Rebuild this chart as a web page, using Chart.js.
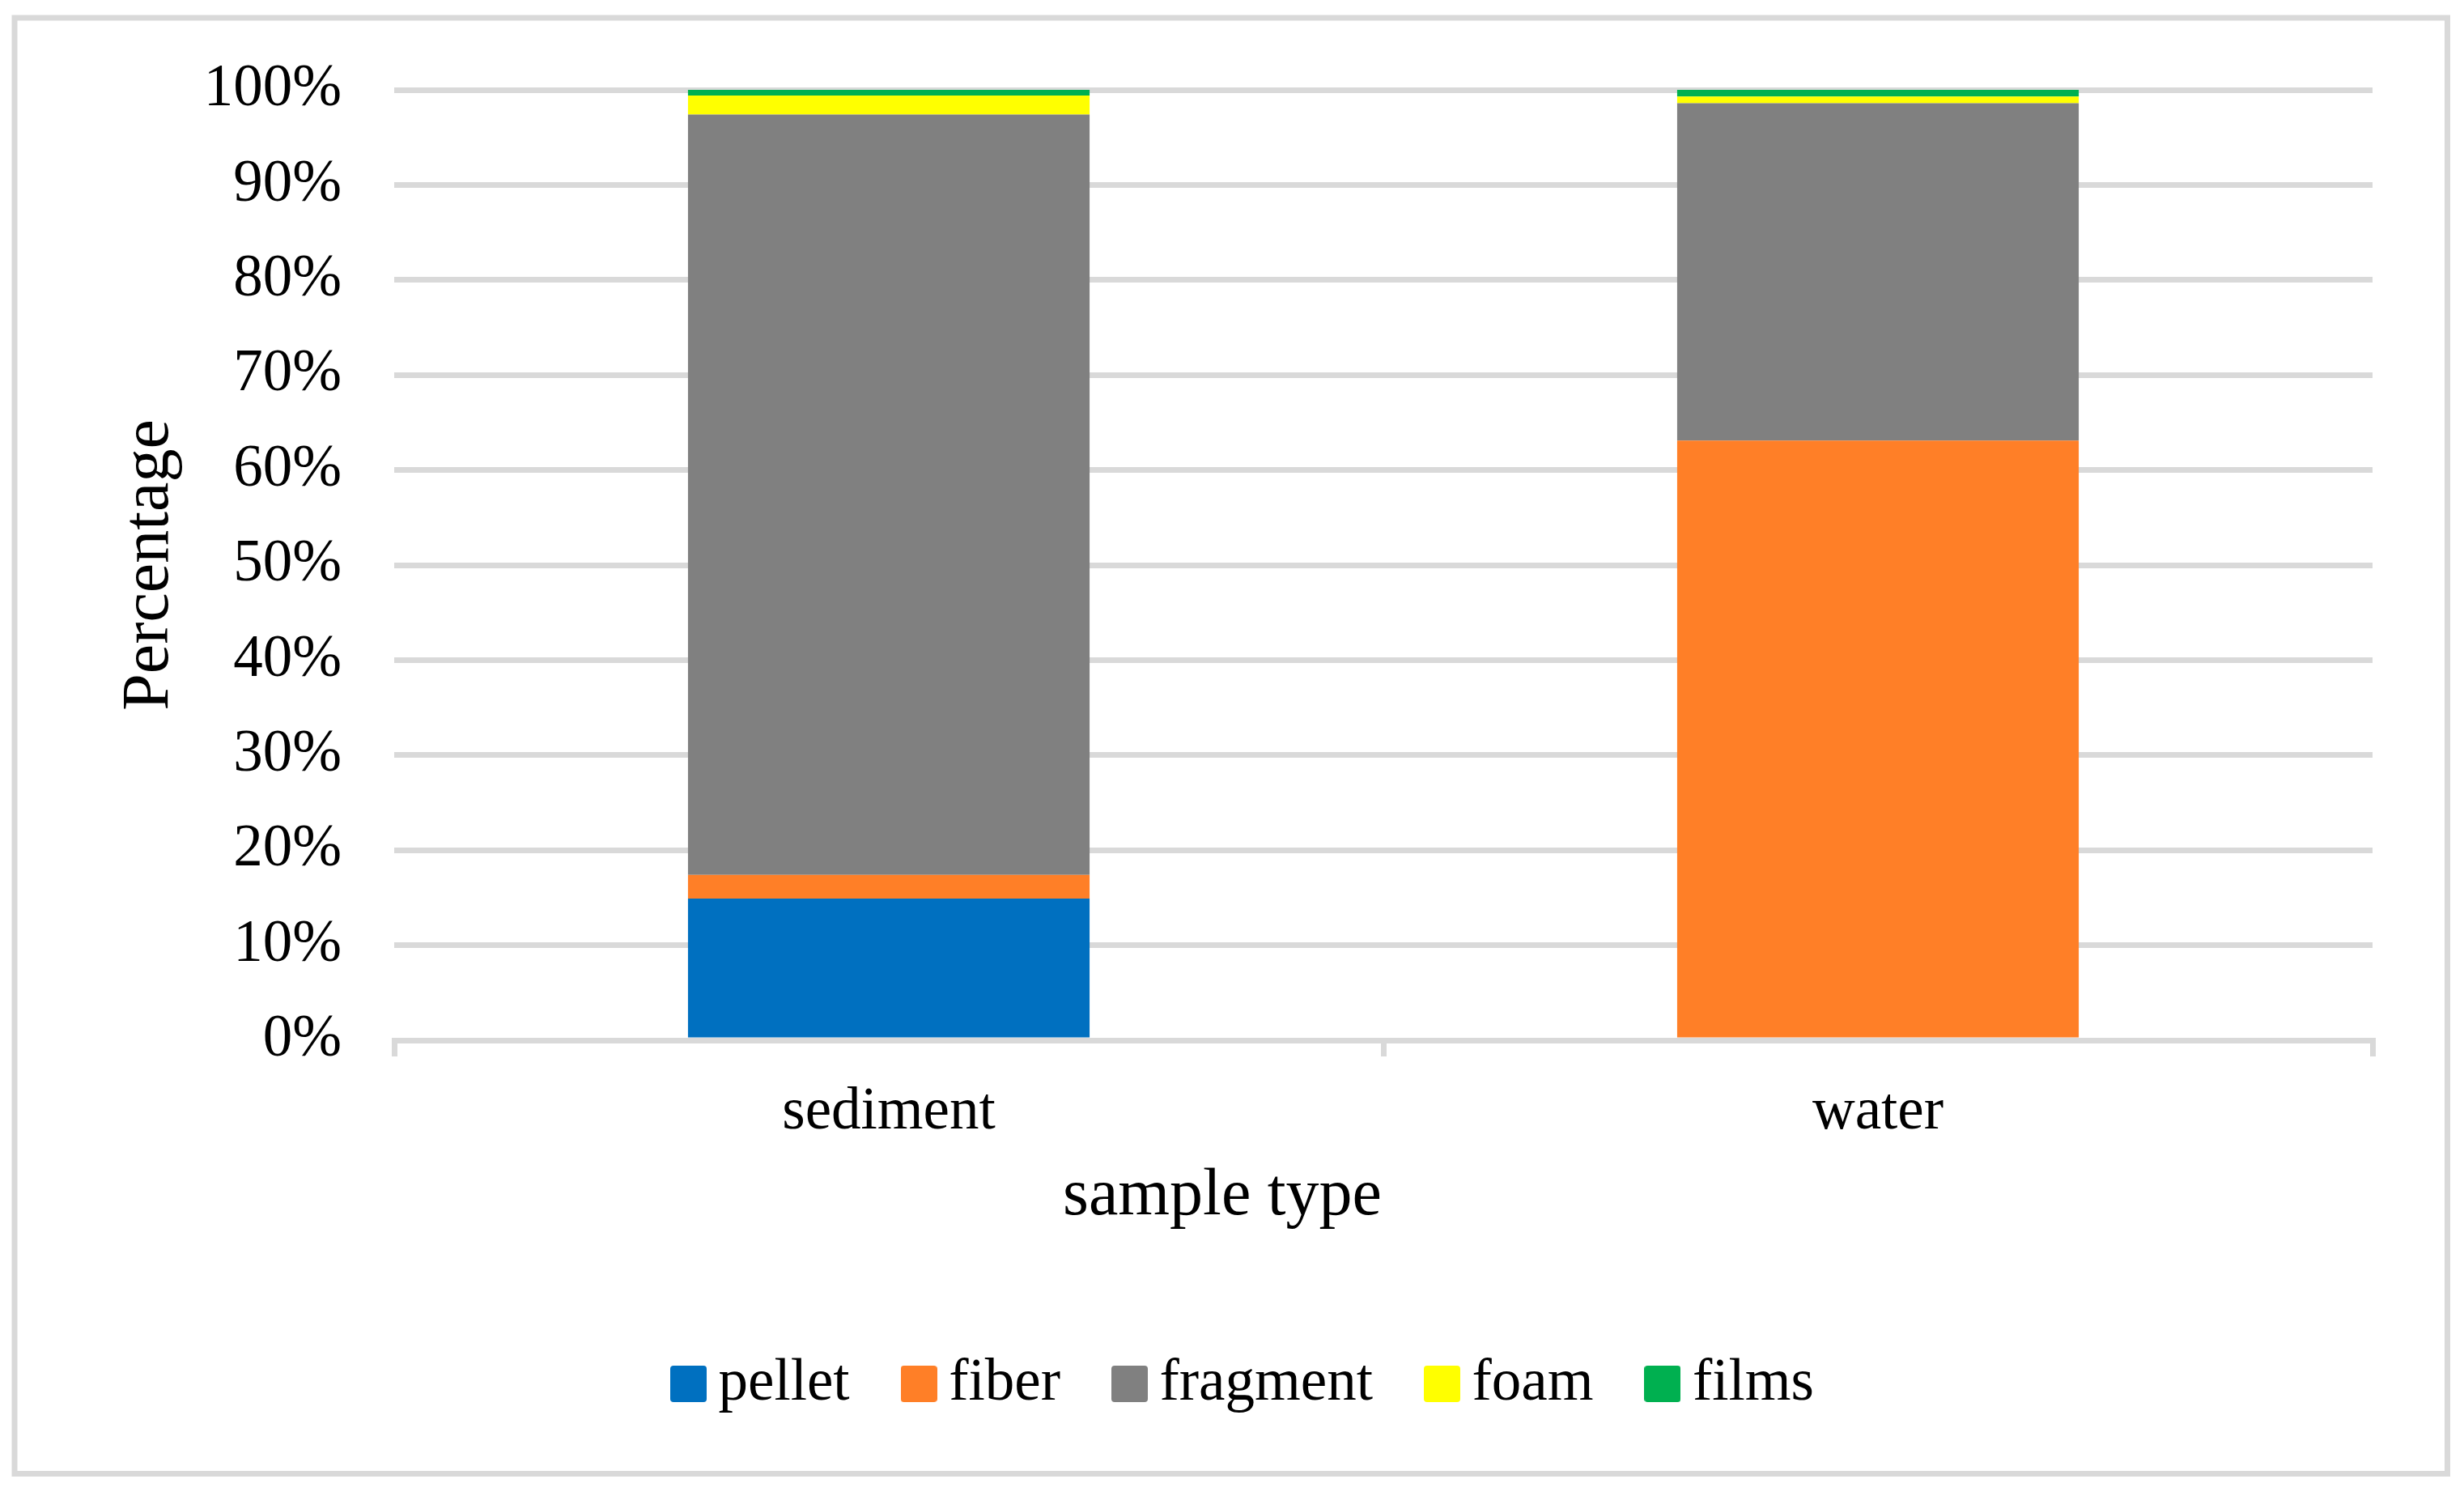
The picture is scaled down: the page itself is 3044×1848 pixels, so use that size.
<!DOCTYPE html>
<html>
<head>
<meta charset="utf-8">
<style>
  html, body { margin: 0; padding: 0; background: #ffffff; }
  #c { display: block; }
</style>
<script src="https://cdn.jsdelivr.net/npm/chart.js@4/dist/chart.umd.min.js"></script>
</head>
<body>
<canvas id="c" width="3044" height="1848" style="width:3044px;height:1848px"></canvas>
<script>
// ---- data ----
const categories = ['sediment', 'water'];
const pellet   = [14.9, 0];
const fiber    = [2.5, 63.1];
const fragment = [80.0, 35.5];
const foam     = [2.0, 0.7];
const films    = [0.6, 0.7];
const yTickSuffix = '%';
const xTitle = 'sample type';
const yTitle = 'Percentage';

const FONT = '"Liberation Serif", "Times New Roman", serif';

function makeSwatch(color) {
  const c = document.createElement('canvas');
  c.width = 45; c.height = 45;
  const g = c.getContext('2d');
  g.fillStyle = color;
  if (g.roundRect) { g.beginPath(); g.roundRect(0, 0, 45, 45, 4); g.fill(); }
  else { g.fillRect(0, 0, 45, 45); }
  return c;
}

const frame = {
  id: 'frame',
  beforeDraw(chart) {
    const ctx = chart.ctx;
    ctx.save();
    ctx.fillStyle = '#ffffff';
    ctx.fillRect(0, 0, chart.width, chart.height);
    ctx.strokeStyle = '#d9d9d9';
    ctx.lineWidth = 7;
    ctx.strokeRect(18, 22, 3023.5 - 18, 1820.5 - 22);
    ctx.restore();
  },
  afterDraw(chart) {
    const ctx = chart.ctx;
    ctx.save();
    ctx.fillStyle = '#000000';
    ctx.font = '82px ' + FONT;
    ctx.textAlign = 'center';
    ctx.textBaseline = 'alphabetic';
    ctx.fillText(xTitle, 1510, 1500);
    ctx.restore();
  }
};

new Chart(document.getElementById('c'), {
  type: 'bar',
  data: {
    labels: categories,
    datasets: [
      { label: 'pellet',   data: pellet,   backgroundColor: '#0070C0' },
      { label: 'fiber',    data: fiber,    backgroundColor: '#FF7F27' },
      { label: 'fragment', data: fragment, backgroundColor: '#808080' },
      { label: 'foam',     data: foam,     backgroundColor: '#FFFF00' },
      { label: 'films',    data: films,    backgroundColor: '#00B050' }
    ]
  },
  options: {
    responsive: false,
    devicePixelRatio: 1,
    animation: false,
    layout: { padding: { left: 160, right: 113, top: 111, bottom: 92 } },
    datasets: { bar: { barPercentage: 0.406, categoryPercentage: 1.0, borderWidth: 0 } },
    plugins: {
      legend: {
        position: 'bottom',
        labels: {
          font: { family: FONT, size: 73 },
          color: '#000000',
          usePointStyle: true,
          boxWidth: 1,
          boxHeight: 45,
          padding: 85,
          generateLabels(chart) {
            const items = Chart.defaults.plugins.legend.labels.generateLabels(chart);
            items.forEach(it => { it.pointStyle = makeSwatch(it.fillStyle); });
            return items;
          }
        }
      },
      tooltip: { enabled: false },
      title: { display: false }
    },
    scales: {
      x: {
        stacked: true,
        afterFit(s) { s.height = 303; },
        grid: {
          offset: true,
          drawOnChartArea: false,
          drawTicks: true,
          tickLength: 20,
          color: '#d9d9d9',
          lineWidth: 7
        },
        border: { display: true, color: '#d9d9d9', width: 7 },
        ticks: {
          font: { family: FONT, size: 73 },
          color: '#000000',
          padding: 26,
          maxRotation: 0
        },
        title: { display: false }
      },
      y: {
        stacked: true,
        min: 0,
        max: 100,
        afterFit(s) { s.width = 327; },
        grid: { color: '#d9d9d9', lineWidth: 7, drawTicks: false },
        border: { display: false },
        ticks: {
          stepSize: 10,
          font: { family: FONT, size: 73 },
          color: '#000000',
          padding: 65,
          callback: (v) => v + yTickSuffix
        },
        title: {
          display: true,
          text: yTitle,
          color: '#000000',
          font: { family: FONT, size: 82, lineHeight: 0.92 },
          padding: { top: -12, bottom: 0 }
        }
      }
    }
  },
  plugins: [frame]
});
</script>
</body>
</html>
